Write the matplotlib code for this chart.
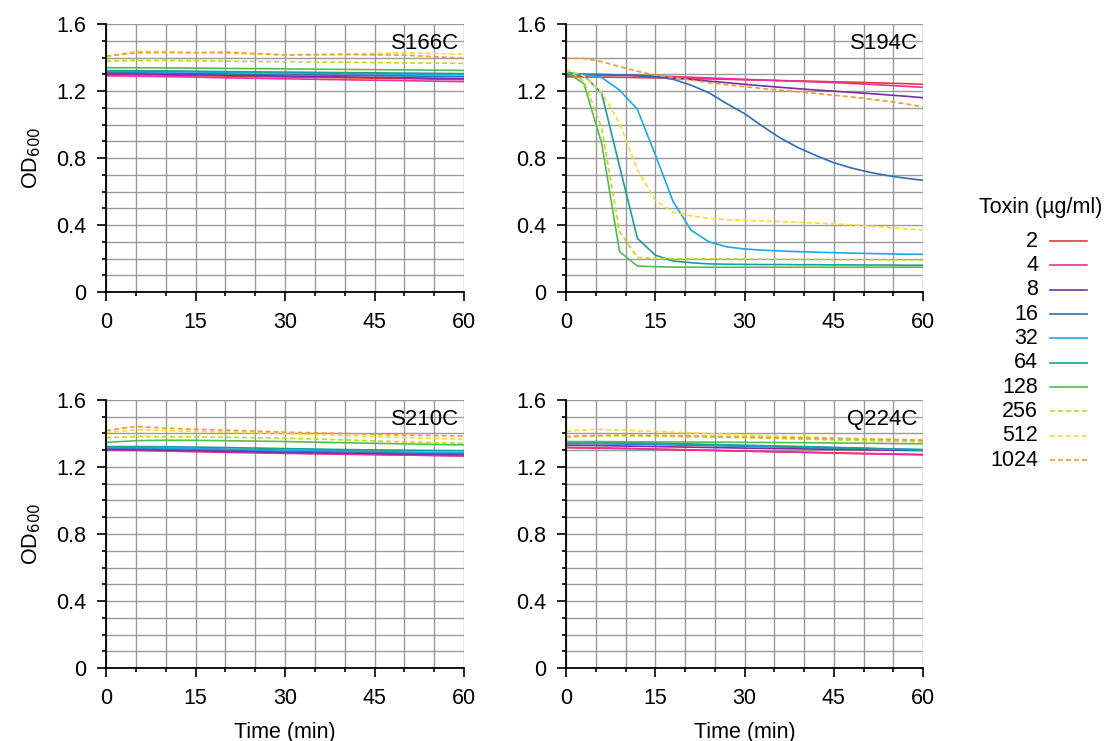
import matplotlib
matplotlib.use('Agg')
import matplotlib.pyplot as plt
from matplotlib.lines import Line2D
from matplotlib.ticker import MultipleLocator, FuncFormatter

plt.rcParams['font.family'] = ['Liberation Sans', 'DejaVu Sans']

# toxin concentrations (ug/ml) and line styles
conc = ['2', '4', '8', '16', '32', '64', '128', '256', '512', '1024']
colors = ['#e8363f', '#ee2d9c', '#7a2e9e', '#2f6fb5', '#1ea7e6',
          '#1c9e98', '#55bb55', '#c4d81c', '#f9dc2e', '#f39a32']
dashed = [False] * 7 + [True] * 3

# S194C was read every 3 min, the flat panels more coarsely
t_fast = list(range(0, 61, 3))
t_flat = [0, 5, 10, 15, 20, 30, 40, 50, 60]

s194c = {
    '2':    [1.285, 1.284, 1.283, 1.282, 1.280, 1.278, 1.276, 1.274, 1.272, 1.270, 1.267,
             1.265, 1.262, 1.260, 1.258, 1.255, 1.253, 1.250, 1.247, 1.244, 1.240],
    '4':    [1.300, 1.298, 1.296, 1.294, 1.292, 1.289, 1.286, 1.282, 1.278, 1.274, 1.270,
             1.266, 1.262, 1.258, 1.254, 1.250, 1.245, 1.240, 1.234, 1.228, 1.222],
    '8':    [1.300, 1.300, 1.299, 1.296, 1.292, 1.286, 1.278, 1.269, 1.259, 1.250, 1.240,
             1.231, 1.222, 1.214, 1.206, 1.199, 1.192, 1.185, 1.177, 1.169, 1.160],
    '16':   [1.296, 1.297, 1.297, 1.296, 1.293, 1.285, 1.270, 1.235, 1.190, 1.125, 1.065,
             0.990, 0.920, 0.862, 0.815, 0.772, 0.740, 0.715, 0.695, 0.680, 0.667],
    '32':   [1.310, 1.300, 1.280, 1.206, 1.090, 0.820, 0.540, 0.370, 0.300, 0.270, 0.257,
             0.250, 0.245, 0.241, 0.238, 0.235, 0.232, 0.230, 0.228, 0.226, 0.225],
    '64':   [1.310, 1.295, 1.186, 0.750, 0.320, 0.220, 0.185, 0.175, 0.168, 0.166, 0.165,
             0.164, 0.164, 0.163, 0.163, 0.162, 0.162, 0.161, 0.161, 0.160, 0.160],
    '128':  [1.315, 1.244, 0.888, 0.241, 0.155, 0.151, 0.149, 0.148, 0.148, 0.148, 0.148,
             0.148, 0.148, 0.148, 0.148, 0.148, 0.148, 0.148, 0.148, 0.148, 0.148],
    '256':  [1.330, 1.260, 0.980, 0.360, 0.207, 0.200, 0.199, 0.198, 0.198, 0.197, 0.197,
             0.196, 0.196, 0.195, 0.195, 0.194, 0.193, 0.193, 0.192, 0.191, 0.190],
    '512':  [1.330, 1.290, 1.190, 1.007, 0.730, 0.550, 0.475, 0.455, 0.440, 0.432, 0.428,
             0.424, 0.420, 0.416, 0.412, 0.407, 0.401, 0.394, 0.386, 0.378, 0.370],
    '1024': [1.395, 1.395, 1.375, 1.345, 1.318, 1.295, 1.280, 1.265, 1.250, 1.238, 1.226,
             1.215, 1.205, 1.195, 1.185, 1.175, 1.165, 1.152, 1.139, 1.124, 1.106],
}

s166c = {
    '2':    [1.300, 1.298, 1.295, 1.292, 1.289, 1.284, 1.279, 1.274, 1.268],
    '4':    [1.291, 1.289, 1.286, 1.283, 1.279, 1.273, 1.267, 1.262, 1.256],
    '8':    [1.303, 1.302, 1.300, 1.297, 1.294, 1.289, 1.284, 1.279, 1.274],
    '16':   [1.310, 1.309, 1.307, 1.305, 1.302, 1.298, 1.294, 1.290, 1.286],
    '32':   [1.318, 1.317, 1.315, 1.313, 1.311, 1.308, 1.305, 1.301, 1.298],
    '64':   [1.322, 1.321, 1.320, 1.318, 1.316, 1.313, 1.310, 1.307, 1.304],
    '128':  [1.339, 1.339, 1.338, 1.337, 1.335, 1.332, 1.329, 1.326, 1.323],
    '256':  [1.378, 1.382, 1.382, 1.380, 1.378, 1.375, 1.372, 1.368, 1.365],
    '512':  [1.405, 1.438, 1.436, 1.430, 1.425, 1.415, 1.420, 1.428, 1.420],
    '1024': [1.408, 1.428, 1.430, 1.428, 1.432, 1.416, 1.418, 1.414, 1.396],
}

s210c = {
    '2':    [1.306, 1.304, 1.300, 1.296, 1.292, 1.284, 1.278, 1.272, 1.266],
    '4':    [1.300, 1.298, 1.295, 1.291, 1.287, 1.281, 1.276, 1.271, 1.267],
    '8':    [1.305, 1.304, 1.301, 1.298, 1.294, 1.288, 1.283, 1.278, 1.274],
    '16':   [1.312, 1.311, 1.309, 1.306, 1.302, 1.296, 1.290, 1.284, 1.280],
    '32':   [1.316, 1.315, 1.313, 1.310, 1.307, 1.301, 1.296, 1.290, 1.285],
    '64':   [1.322, 1.322, 1.321, 1.319, 1.316, 1.310, 1.304, 1.300, 1.297],
    '128':  [1.347, 1.357, 1.360, 1.359, 1.357, 1.352, 1.345, 1.338, 1.332],
    '256':  [1.375, 1.382, 1.381, 1.380, 1.378, 1.372, 1.362, 1.350, 1.341],
    '512':  [1.405, 1.422, 1.418, 1.412, 1.408, 1.400, 1.388, 1.376, 1.365],
    '1024': [1.417, 1.442, 1.432, 1.425, 1.420, 1.408, 1.400, 1.390, 1.385],
}

q224c = {
    '2':    [1.315, 1.313, 1.310, 1.306, 1.302, 1.295, 1.288, 1.281, 1.275],
    '4':    [1.317, 1.314, 1.311, 1.307, 1.303, 1.295, 1.287, 1.279, 1.272],
    '8':    [1.330, 1.328, 1.325, 1.322, 1.319, 1.313, 1.308, 1.303, 1.298],
    '16':   [1.340, 1.339, 1.337, 1.334, 1.331, 1.324, 1.317, 1.309, 1.302],
    '32':   [1.345, 1.343, 1.341, 1.338, 1.334, 1.327, 1.320, 1.312, 1.305],
    '64':   [1.350, 1.348, 1.345, 1.342, 1.338, 1.330, 1.322, 1.312, 1.300],
    '128':  [1.352, 1.352, 1.351, 1.350, 1.349, 1.347, 1.345, 1.342, 1.338],
    '256':  [1.380, 1.386, 1.386, 1.384, 1.381, 1.375, 1.366, 1.358, 1.350],
    '512':  [1.414, 1.425, 1.420, 1.412, 1.405, 1.392, 1.380, 1.370, 1.361],
    '1024': [1.381, 1.388, 1.390, 1.388, 1.386, 1.380, 1.373, 1.366, 1.360],
}

panels = [('S166C', t_flat, s166c), ('S194C', t_fast, s194c),
          ('S210C', t_flat, s210c), ('Q224C', t_flat, q224c)]

fig = plt.figure(figsize=(11.07, 7.41), dpi=100)
boxes = [[0.0958, 0.6059, 0.3234, 0.3617], [0.5113, 0.6059, 0.3225, 0.3617],
         [0.0958, 0.0985, 0.3234, 0.3617], [0.5113, 0.0985, 0.3225, 0.3617]]

fs = 15.5
dash = (3.0, 1.8)
yfmt = FuncFormatter(lambda v, p: '0' if abs(v) < 1e-9 else '%.1f' % v)

for i, (name, t, data) in enumerate(panels):
    ax = fig.add_axes(boxes[i])
    for c, col, d in zip(conc, colors, dashed):
        line, = ax.plot(t, data[c], color=col, lw=1.2)
        if d:
            line.set_dashes(dash)
    ax.set_xlim(0, 60)
    ax.set_ylim(0, 1.6)
    ax.xaxis.set_major_locator(MultipleLocator(15))
    ax.xaxis.set_minor_locator(MultipleLocator(5))
    ax.yaxis.set_major_locator(MultipleLocator(0.4))
    ax.yaxis.set_minor_locator(MultipleLocator(0.1))
    ax.yaxis.set_major_formatter(yfmt)
    ax.grid(True, which='both', color='#9a9a9a', lw=1.0)
    ax.set_axisbelow(True)
    for s in ['top', 'right']:
        ax.spines[s].set_visible(False)
    for s in ['left', 'bottom']:
        ax.spines[s].set_linewidth(1.3)
    ax.tick_params(which='major', length=6.5, width=1.2, labelsize=fs, pad=8)
    ax.tick_params(which='minor', length=3, width=1.2)
    ax.text(0.985, 0.965, name, transform=ax.transAxes, ha='right', va='top', fontsize=16)
    if i % 2 == 0:
        ax.set_ylabel('OD$_{600}$', fontsize=fs, labelpad=9)
    if i >= 2:
        ax.set_xlabel('Time (min)', fontsize=fs, labelpad=9)

# legend drawn by hand so the labels sit right-aligned next to the samples
fig.text(0.9404, 0.7193, 'Toxin (\u00b5g/ml)', ha='center', va='center', fontsize=fs)
for k, (c, col, d) in enumerate(zip(conc, colors, dashed)):
    y = 1 - (241 + 24.35 * k) / 741
    fig.text(0.9377, y, c, ha='right', va='center', fontsize=fs)
    ln = Line2D([0.9485, 0.9819], [y, y], transform=fig.transFigure, color=col, lw=1.2)
    if d:
        ln.set_dashes(dash)
    fig.add_artist(ln)

fig.savefig('out.png', dpi=100)
